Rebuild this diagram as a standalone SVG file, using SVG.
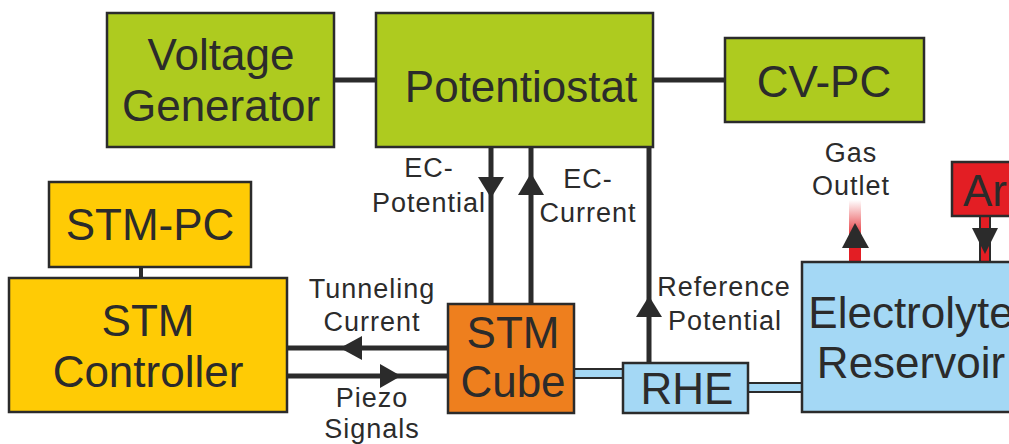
<svg xmlns="http://www.w3.org/2000/svg" width="1009" height="444" viewBox="0 0 1009 444">
<style>
.box{stroke:#2b2b2b;stroke-width:2.5}
.g{fill:#aecb1f}.y{fill:#ffcb05}.o{fill:#ee7f1e}.b{fill:#a4d8f5}.r{fill:#e31e24}
.big{font-family:"Liberation Sans",Arial,sans-serif;font-size:44px;fill:#2b2b2b;text-anchor:middle}
.lab{font-family:"Liberation Sans",Arial,sans-serif;font-size:27px;letter-spacing:1px;fill:#2b2b2b;text-anchor:middle}
.ln{stroke:#2b2b2b;stroke-width:5;fill:none}
.ah{fill:#2b2b2b}
.pipe{fill:#a4d8f5;stroke:#2b2b2b;stroke-width:2}
</style>
<defs>
<linearGradient id="gas" x1="0" y1="200" x2="0" y2="240" gradientUnits="userSpaceOnUse">
<stop offset="0" stop-color="#e31e24" stop-opacity="0"/>
<stop offset="1" stop-color="#e31e24" stop-opacity="1"/>
</linearGradient>
</defs>
<g id="connectors">
<line class="ln" x1="334" y1="80" x2="376" y2="80"/>
<line class="ln" x1="653" y1="80" x2="725" y2="80"/>
<line class="ln" x1="141" y1="267" x2="141" y2="278" style="stroke-width:4"/>
<line class="ln" x1="491" y1="147" x2="491" y2="304"/>
<line class="ln" x1="531" y1="147" x2="531" y2="304"/>
<line class="ln" x1="649" y1="147" x2="649" y2="363"/>
<line class="ln" x1="287" y1="348" x2="448" y2="348"/>
<line class="ln" x1="287" y1="376" x2="448" y2="376"/>
<polygon class="ah" points="478,177 504,177 491,198"/>
<polygon class="ah" points="518,195 544,195 531,173"/>
<polygon class="ah" points="636,317 662,317 649,296"/>
<polygon class="ah" points="340,348 362,336 362,360"/>
<polygon class="ah" points="401,376 380,364 380,388"/>
<rect class="pipe" x="573" y="369" width="51" height="9"/>
<rect class="pipe" x="748" y="383" width="55" height="9"/>
<rect x="849" y="200" width="12" height="62" fill="url(#gas)"/>
<polygon class="ah" points="842,248 869,248 855,223"/>
<rect x="980" y="216" width="10" height="46" fill="#e31e24" stroke="#2b2b2b" stroke-width="2"/>
<polygon class="ah" points="972,228 998,228 985,254"/>
</g>
<g id="voltage-generator">
<rect class="box g" x="107" y="13" width="227" height="134"/>
<text class="big" x="221" y="70">Voltage</text>
<text class="big" x="221" y="121">Generator</text>
</g>
<g id="potentiostat">
<rect class="box g" x="376" y="13" width="277" height="134"/>
<text class="big" x="521" y="102">Potentiostat</text>
</g>
<g id="cv-pc">
<rect class="box g" x="725" y="38" width="199" height="84"/>
<text class="big" x="824" y="97">CV-PC</text>
</g>
<g id="stm-pc">
<rect class="box y" x="49" y="182" width="202" height="85"/>
<text class="big" x="150" y="240">STM-PC</text>
</g>
<g id="stm-controller">
<rect class="box y" x="9" y="278" width="278" height="134"/>
<text class="big" x="148" y="336">STM</text>
<text class="big" x="148" y="387">Controller</text>
</g>
<g id="stm-cube">
<rect class="box o" x="448" y="304" width="126" height="109"/>
<text class="big" x="513" y="348">STM</text>
<text class="big" x="513" y="397">Cube</text>
</g>
<g id="rhe">
<rect class="box b" x="623" y="363" width="125" height="50"/>
<text class="big" x="687" y="404">RHE</text>
</g>
<g id="electrolyte-reservoir">
<rect class="box b" x="802" y="262" width="230" height="150"/>
<text class="big" x="911" y="328">Electrolyte</text>
<text class="big" x="911" y="378">Reservoir</text>
</g>
<g id="ar">
<rect class="box r" x="952" y="162" width="80" height="54"/>
<text class="big" x="963" y="206" style="text-anchor:start">Ar</text>
</g>
<g id="labels">
<text class="lab" x="429" y="177">EC-</text>
<text class="lab" x="429" y="212">Potential</text>
<text class="lab" x="588" y="188">EC-</text>
<text class="lab" x="588" y="222">Current</text>
<text class="lab" x="372" y="298">Tunneling</text>
<text class="lab" x="372" y="331">Current</text>
<text class="lab" x="372" y="407">Piezo</text>
<text class="lab" x="372" y="438">Signals</text>
<text class="lab" x="724" y="296">Reference</text>
<text class="lab" x="725" y="330">Potential</text>
<text class="lab" x="851" y="162">Gas</text>
<text class="lab" x="851" y="195">Outlet</text>
</g>
</svg>
